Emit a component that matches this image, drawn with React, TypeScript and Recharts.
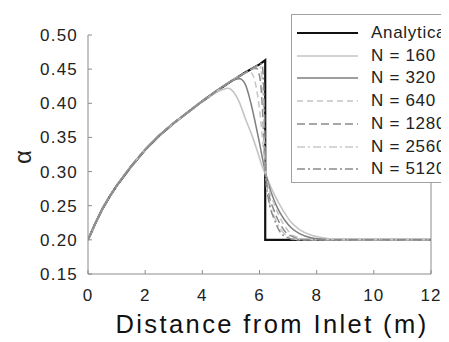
import React from 'react';
import { LineChart, Line, XAxis, YAxis } from 'recharts';

// ---- data ----
const xTicks = [0, 2, 4, 6, 8, 10, 12];
const yTicks = [0.15, 0.2, 0.25, 0.3, 0.35, 0.4, 0.45, 0.5];

const analyticX = [0, 0.25, 0.5, 0.75, 1, 1.5, 2, 2.5, 3, 3.5, 4, 4.5, 5, 5.5, 6, 6.2, 6.2, 12];
const analyticY = [0.2, 0.2235, 0.245, 0.263, 0.279, 0.307, 0.332, 0.353, 0.371, 0.387, 0.403, 0.418, 0.432, 0.445, 0.457, 0.463, 0.2, 0.2];

// common rising part shared by every numerical solution
const riseX = [0, 0.25, 0.5, 0.75, 1, 1.5, 2, 2.5, 3, 3.5, 4];
const riseY = [0.2, 0.2235, 0.245, 0.263, 0.279, 0.307, 0.332, 0.353, 0.371, 0.387, 0.403];

const n160X = [4.4, 4.7, 4.9, 5.1, 5.3, 5.5, 5.7, 5.9, 6.1, 6.3, 6.5, 6.7, 6.9, 7.1, 7.4, 7.8, 8.2, 8.6, 9.0, 12];
const n160Y = [0.414, 0.42, 0.422, 0.416, 0.401, 0.378, 0.357, 0.333, 0.307, 0.287, 0.268, 0.252, 0.238, 0.226, 0.215, 0.207, 0.203, 0.201, 0.2, 0.2];

const n320X = [4.4, 4.8, 5.1, 5.3, 5.5, 5.7, 5.9, 6.0, 6.1, 6.3, 6.5, 6.7, 6.9, 7.1, 7.4, 7.8, 8.2, 8.6, 12];
const n320Y = [0.415, 0.427, 0.434, 0.436, 0.428, 0.4, 0.362, 0.342, 0.32, 0.284, 0.259, 0.241, 0.228, 0.218, 0.209, 0.203, 0.201, 0.2, 0.2];

const n640X = [4.4, 4.8, 5.2, 5.5, 5.65, 5.8, 5.9, 6.0, 6.1, 6.2, 6.3, 6.5, 6.7, 6.9, 7.1, 7.4, 7.8, 12];
const n640Y = [0.415, 0.427, 0.438, 0.444, 0.446, 0.438, 0.42, 0.392, 0.35, 0.305, 0.28, 0.254, 0.234, 0.219, 0.209, 0.203, 0.2, 0.2];

const n1280X = [4.4, 4.8, 5.2, 5.6, 5.8, 5.9, 6.0, 6.05, 6.1, 6.15, 6.2, 6.3, 6.5, 6.7, 6.9, 7.2, 7.6, 12];
const n1280Y = [0.415, 0.427, 0.437, 0.447, 0.451, 0.451, 0.44, 0.425, 0.395, 0.35, 0.302, 0.272, 0.244, 0.225, 0.212, 0.204, 0.2, 0.2];

const n2560X = [4.4, 4.8, 5.2, 5.6, 5.9, 6.0, 6.08, 6.13, 6.18, 6.22, 6.3, 6.5, 6.7, 7.0, 7.4, 12];
const n2560Y = [0.415, 0.427, 0.437, 0.447, 0.454, 0.455, 0.44, 0.405, 0.335, 0.29, 0.265, 0.236, 0.218, 0.205, 0.2, 0.2];

const n5120X = [4.4, 4.8, 5.2, 5.6, 6.0, 6.08, 6.13, 6.17, 6.21, 6.25, 6.32, 6.5, 6.7, 7.0, 7.3, 12];
const n5120Y = [0.415, 0.427, 0.437, 0.447, 0.457, 0.458, 0.44, 0.395, 0.31, 0.28, 0.258, 0.232, 0.213, 0.203, 0.2, 0.2];

const zip = (xs: number[], ys: number[]) => xs.map((x, i) => ({ x, y: ys[i] }));
const numeric = (xs: number[], ys: number[]) => zip(riseX.concat(xs), riseY.concat(ys));

const series = [
  { name: 'Analytical', data: zip(analyticX, analyticY), color: '#111111', width: 2.2, dash: undefined as string | undefined, type: 'linear' },
  { name: 'N = 160', data: numeric(n160X, n160Y), color: '#c4c4c4', width: 1.6, dash: undefined, type: 'monotone' },
  { name: 'N = 320', data: numeric(n320X, n320Y), color: '#7e7e7e', width: 1.5, dash: undefined, type: 'monotone' },
  { name: 'N = 640', data: numeric(n640X, n640Y), color: '#c4c4c4', width: 1.5, dash: '6 4', type: 'monotone' },
  { name: 'N = 1280', data: numeric(n1280X, n1280Y), color: '#8a8a8a', width: 1.5, dash: '8 4', type: 'monotone' },
  { name: 'N = 2560', data: numeric(n2560X, n2560Y), color: '#c8c8c8', width: 1.5, dash: '8 3 2 3', type: 'monotone' },
  { name: 'N = 5120', data: numeric(n5120X, n5120Y), color: '#8a8a8a', width: 1.5, dash: '8 3 2 3', type: 'monotone' },
];

const FONT = '"Liberation Sans", Arial, Helvetica, sans-serif';
const W = 441;
const H = 334;

const YTick = (props: any) => {
  const { x, y, payload } = props;
  return (
    <text x={x} y={y} dy="0.355em" textAnchor="end" fontSize={17} fill="#222" fontFamily={FONT} letterSpacing={1.2}>
      {Number(payload.value).toFixed(2)}
    </text>
  );
};

const XTick = (props: any) => {
  const { x, y, payload } = props;
  return (
    <text x={x} y={y} dy="0.71em" textAnchor="middle" fontSize={17} fill="#222" fontFamily={FONT} letterSpacing={1}>
      {String(payload.value)}
    </text>
  );
};

const XTitle = () => (
  <text x={264} y={325} textAnchor="middle" fontSize={25.5} fill="#111" fontFamily={FONT} letterSpacing={2.4}>
    Distance from Inlet (m)
  </text>
);

const YTitle = () => (
  <text x={14} y={149} textAnchor="middle" dominantBaseline="central" fontSize={24} fill="#222" fontFamily={FONT} transform="rotate(-90 14 149)">
    α
  </text>
);

const LegendBox = () => (
  <div
    style={{
      position: 'absolute',
      left: 283,
      top: 6,
      width: 190,
      height: 169,
      border: '1.5px solid #a0a0a0',
      background: '#fff',
      boxSizing: 'border-box',
      fontFamily: FONT,
    }}
  >
    {series.map((s, i) => (
      <div
        key={s.name}
        style={{ position: 'absolute', left: 0, top: 7 + i * 22.7, height: 22, display: 'flex', alignItems: 'center' }}
      >
        <svg width={70} height={22} style={{ display: 'block' }}>
          <line x1={5} x2={66} y1={11} y2={11} stroke={s.color} strokeWidth={s.width} strokeDasharray={s.dash} />
        </svg>
        <span style={{ marginLeft: 9, fontSize: 17, color: '#222', letterSpacing: 0.7, whiteSpace: 'nowrap' }}>{s.name}</span>
      </div>
    ))}
  </div>
);

export default function App() {
  return (
    <div style={{ position: 'relative', width: W, height: H, overflow: 'hidden', background: '#fff' }}>
      <LineChart width={W} height={H} margin={{ top: 27, right: 0, bottom: 0, left: 0 }}>
        <XAxis
          type="number"
          dataKey="x"
          domain={[0, 12]}
          ticks={xTicks}
          allowDataOverflow
          height={68}
          tickSize={-4}
          tickMargin={19}
          stroke="#8c8c8c"
          tick={<XTick />}
          label={{ content: () => <XTitle /> }}
        />
        <XAxis
          xAxisId="top"
          orientation="top"
          type="number"
          dataKey="x"
          domain={[0, 12]}
          ticks={xTicks}
          allowDataOverflow
          height={0}
          tickSize={-4}
          tick={false}
          stroke="#8c8c8c"
        />
        <YAxis
          type="number"
          domain={[0.15, 0.5]}
          ticks={yTicks}
          allowDataOverflow
          width={80}
          tickSize={-4}
          tickMargin={14}
          stroke="#8c8c8c"
          tick={<YTick />}
          label={{ content: () => <YTitle /> }}
        />
        <YAxis
          yAxisId="right"
          orientation="right"
          type="number"
          domain={[0.15, 0.5]}
          ticks={yTicks}
          allowDataOverflow
          width={18}
          tickSize={-4}
          tick={false}
          stroke="#8c8c8c"
        />
        {series.map((s) => (
          <Line
            key={s.name}
            data={s.data}
            dataKey="y"
            type={s.type as any}
            stroke={s.color}
            strokeWidth={s.width}
            strokeDasharray={s.dash}
            dot={false}
            activeDot={false}
            isAnimationActive={false}
          />
        ))}
      </LineChart>
      <LegendBox />
    </div>
  );
}
